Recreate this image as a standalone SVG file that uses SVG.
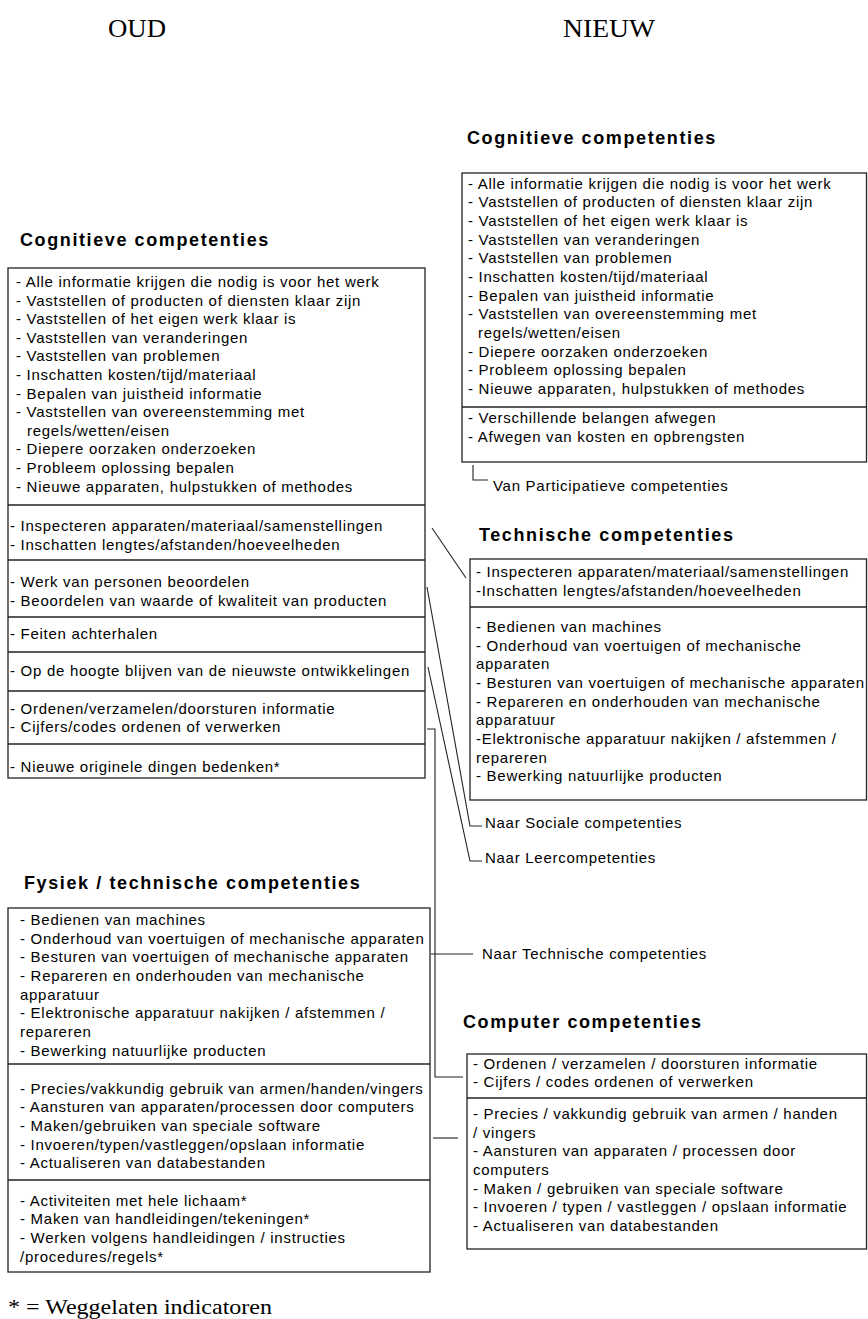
<svg xmlns="http://www.w3.org/2000/svg" width="868" height="1319" viewBox="0 0 868 1319">
<style>
.t{font-family:"Liberation Sans",Arial,sans-serif;font-size:15px;letter-spacing:0.72px;fill:#000}
.h{font-family:"Liberation Sans",Arial,sans-serif;font-size:18px;font-weight:bold;letter-spacing:1.6px;fill:#000}
.big{font-family:"Liberation Serif","Times New Roman",serif;font-size:25px;fill:#000}
.box{fill:none;stroke:#222;stroke-width:1.3}
.ln{fill:none;stroke:#222;stroke-width:1.1}
</style>
<rect width="868" height="1319" fill="#fff"/>
<text class="big" x="108" y="37" textLength="58" lengthAdjust="spacingAndGlyphs">OUD</text>
<text class="big" x="563" y="37" textLength="92" lengthAdjust="spacingAndGlyphs">NIEUW</text>

<g id="oud-cognitief">
<text class="h" x="20" y="246">Cognitieve competenties</text>
<rect class="box" x="8" y="268" width="417" height="510"/>
<line class="box" x1="8" y1="505" x2="425" y2="505"/>
<line class="box" x1="8" y1="560" x2="425" y2="560"/>
<line class="box" x1="8" y1="617" x2="425" y2="617"/>
<line class="box" x1="8" y1="652" x2="425" y2="652"/>
<line class="box" x1="8" y1="691" x2="425" y2="691"/>
<line class="box" x1="8" y1="744" x2="425" y2="744"/>
<text class="t" x="16" y="287">- Alle informatie krijgen die nodig is voor het werk</text>
<text class="t" x="16" y="305.6">- Vaststellen of producten of diensten klaar zijn</text>
<text class="t" x="16" y="324.2">- Vaststellen of het eigen werk klaar is</text>
<text class="t" x="16" y="342.8">- Vaststellen van veranderingen</text>
<text class="t" x="16" y="361.4">- Vaststellen van problemen</text>
<text class="t" x="16" y="380">- Inschatten kosten/tijd/materiaal</text>
<text class="t" x="16" y="398.6">- Bepalen van juistheid informatie</text>
<text class="t" x="16" y="417.2">- Vaststellen van overeenstemming met</text>
<text class="t" x="27" y="435.8">regels/wetten/eisen</text>
<text class="t" x="16" y="454.4">- Diepere oorzaken onderzoeken</text>
<text class="t" x="16" y="473">- Probleem oplossing bepalen</text>
<text class="t" x="16" y="491.6">- Nieuwe apparaten, hulpstukken of methodes</text>
<text class="t" x="10" y="531">- Inspecteren apparaten/materiaal/samenstellingen</text>
<text class="t" x="10" y="549.5">- Inschatten lengtes/afstanden/hoeveelheden</text>
<text class="t" x="10" y="587">- Werk van personen beoordelen</text>
<text class="t" x="10" y="605.5">- Beoordelen van waarde of kwaliteit van producten</text>
<text class="t" x="10" y="638.5">- Feiten achterhalen</text>
<text class="t" x="10" y="676">- Op de hoogte blijven van de nieuwste ontwikkelingen</text>
<text class="t" x="10" y="713.5">- Ordenen/verzamelen/doorsturen informatie</text>
<text class="t" x="10" y="732">- Cijfers/codes ordenen of verwerken</text>
<text class="t" x="10" y="772">- Nieuwe originele dingen bedenken*</text>
</g>

<g id="oud-fysiek">
<text class="h" x="24" y="889">Fysiek / technische competenties</text>
<rect class="box" x="8" y="908" width="422" height="364"/>
<line class="box" x1="8" y1="1064" x2="430" y2="1064"/>
<line class="box" x1="8" y1="1180" x2="430" y2="1180"/>
<text class="t" x="20" y="925">- Bedienen van machines</text>
<text class="t" x="20" y="943.7">- Onderhoud van voertuigen of mechanische apparaten</text>
<text class="t" x="20" y="962.3">- Besturen van voertuigen of mechanische apparaten</text>
<text class="t" x="20" y="981">- Repareren en onderhouden van mechanische</text>
<text class="t" x="20" y="999.7">apparatuur</text>
<text class="t" x="20" y="1018.3">- Elektronische apparatuur nakijken / afstemmen /</text>
<text class="t" x="20" y="1037">repareren</text>
<text class="t" x="20" y="1055.7">- Bewerking natuurlijke producten</text>
<text class="t" x="20" y="1093.5">- Precies/vakkundig gebruik van armen/handen/vingers</text>
<text class="t" x="20" y="1112.2">- Aansturen van apparaten/processen door computers</text>
<text class="t" x="20" y="1130.8">- Maken/gebruiken van speciale software</text>
<text class="t" x="20" y="1149.5">- Invoeren/typen/vastleggen/opslaan informatie</text>
<text class="t" x="20" y="1168.2">- Actualiseren van databestanden</text>
<text class="t" x="20" y="1205.5">- Activiteiten met hele lichaam*</text>
<text class="t" x="20" y="1224.2">- Maken van handleidingen/tekeningen*</text>
<text class="t" x="20" y="1242.8">- Werken volgens handleidingen / instructies</text>
<text class="t" x="20" y="1261.5">/procedures/regels*</text>
</g>

<g id="nieuw-cognitief">
<text class="h" x="467" y="144">Cognitieve competenties</text>
<rect class="box" x="462" y="173" width="404.5" height="289"/>
<line class="box" x1="462" y1="407" x2="866.5" y2="407"/>
<text class="t" x="468" y="188.5">- Alle informatie krijgen die nodig is voor het werk</text>
<text class="t" x="468" y="207.2">- Vaststellen of producten of diensten klaar zijn</text>
<text class="t" x="468" y="225.8">- Vaststellen of het eigen werk klaar is</text>
<text class="t" x="468" y="244.5">- Vaststellen van veranderingen</text>
<text class="t" x="468" y="263.2">- Vaststellen van problemen</text>
<text class="t" x="468" y="281.8">- Inschatten kosten/tijd/materiaal</text>
<text class="t" x="468" y="300.5">- Bepalen van juistheid informatie</text>
<text class="t" x="468" y="319.2">- Vaststellen van overeenstemming met</text>
<text class="t" x="478" y="337.8">regels/wetten/eisen</text>
<text class="t" x="468" y="356.5">- Diepere oorzaken onderzoeken</text>
<text class="t" x="468" y="375.2">- Probleem oplossing bepalen</text>
<text class="t" x="468" y="393.8">- Nieuwe apparaten, hulpstukken of methodes</text>
<text class="t" x="468" y="423">- Verschillende belangen afwegen</text>
<text class="t" x="468" y="441.7">- Afwegen van kosten en opbrengsten</text>
</g>

<g id="nieuw-technisch">
<text class="h" x="479" y="541">Technische competenties</text>
<rect class="box" x="470" y="559" width="396.5" height="241"/>
<line class="box" x1="470" y1="607" x2="866.5" y2="607"/>
<text class="t" x="476" y="576.5">- Inspecteren apparaten/materiaal/samenstellingen</text>
<text class="t" x="476" y="595.5">-Inschatten lengtes/afstanden/hoeveelheden</text>
<text class="t" x="476" y="632">- Bedienen van machines</text>
<text class="t" x="476" y="650.7">- Onderhoud van voertuigen of mechanische</text>
<text class="t" x="476" y="669.3">apparaten</text>
<text class="t" x="476" y="688">- Besturen van voertuigen of mechanische apparaten</text>
<text class="t" x="476" y="706.7">- Repareren en onderhouden van mechanische</text>
<text class="t" x="476" y="725.3">apparatuur</text>
<text class="t" x="476" y="744">-Elektronische apparatuur nakijken / afstemmen /</text>
<text class="t" x="476" y="762.7">repareren</text>
<text class="t" x="476" y="781.3">- Bewerking natuurlijke producten</text>
</g>

<g id="nieuw-computer">
<text class="h" x="463" y="1028">Computer competenties</text>
<rect class="box" x="467" y="1054" width="399.5" height="195"/>
<line class="box" x1="467" y1="1098" x2="866.5" y2="1098"/>
<text class="t" x="473" y="1068.5">- Ordenen / verzamelen / doorsturen informatie</text>
<text class="t" x="473" y="1087.2">- Cijfers / codes ordenen of verwerken</text>
<text class="t" x="473" y="1118.8">- Precies / vakkundig gebruik van armen / handen</text>
<text class="t" x="473" y="1137.5">/ vingers</text>
<text class="t" x="473" y="1156.2">- Aansturen van apparaten / processen door</text>
<text class="t" x="473" y="1174.8">computers</text>
<text class="t" x="473" y="1193.5">- Maken / gebruiken van speciale software</text>
<text class="t" x="473" y="1212.2">- Invoeren / typen / vastleggen / opslaan informatie</text>
<text class="t" x="473" y="1230.8">- Actualiseren van databestanden</text>
</g>

<g id="connectors">
<polyline class="ln" points="473,465 473,480 488,480"/>
<line class="ln" x1="432" y1="528" x2="466" y2="578"/>
<polyline class="ln" points="427,587 470,826 482,826"/>
<polyline class="ln" points="428,667 470,861 482,861"/>
<polyline class="ln" points="427,729 435,729 435,1077 463,1077"/>
<line class="ln" x1="431" y1="954" x2="473" y2="954"/>
<line class="ln" x1="433" y1="1138" x2="458" y2="1138"/>
</g>

<g id="labels">
<text class="t" x="493" y="490.5">Van Participatieve competenties</text>
<text class="t" x="485" y="828">Naar Sociale competenties</text>
<text class="t" x="485" y="863">Naar Leercompetenties</text>
<text class="t" x="482" y="958.5">Naar Technische competenties</text>
<text class="big" x="8" y="1314" style="font-size:22px" textLength="264" lengthAdjust="spacingAndGlyphs">* = Weggelaten indicatoren</text>
</g>
</svg>
